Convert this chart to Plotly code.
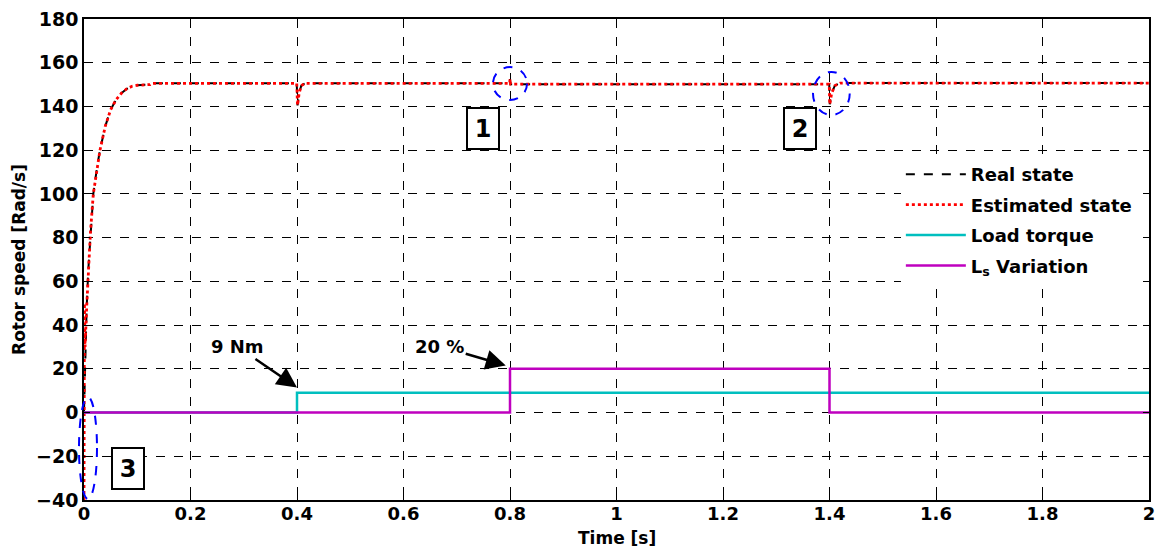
import plotly.graph_objects as go

# Rotor speed response (rad/s) over time (s)
t_real = [0, 0.002, 0.005, 0.008, 0.012, 0.0175, 0.025, 0.03, 0.04, 0.05, 0.06, 0.07,
          0.08, 0.09, 0.1, 0.124, 0.127, 0.3995, 0.401, 0.404, 0.408, 0.415,
          0.7995, 0.8, 0.801, 1.3995, 1.4005, 1.404, 1.41, 1.42, 2.0]
w_real = [0, 22, 48, 65, 82, 100, 113, 120, 131, 138.5, 143, 146,
          148, 149.2, 149.7, 150.0, 150.6, 150.6, 140.5, 146, 149.5, 150.6,
          150.6, 152.5, 150.2, 150.2, 141, 146, 149.5, 150.7, 150.7]

t_est = [0, 0.0008, 0.002, 0.005, 0.008, 0.012, 0.0175, 0.025, 0.03, 0.04, 0.05, 0.06, 0.07,
         0.08, 0.09, 0.1, 0.124, 0.127, 0.3995, 0.401, 0.404, 0.408, 0.415,
         0.7995, 0.8, 0.801, 1.3995, 1.4005, 1.404, 1.41, 1.42, 2.0]
w_est = [-40, 50, 30, 48, 65, 82, 100, 113, 120, 131, 138.5, 143, 146,
         148, 149.2, 149.7, 150.0, 150.6, 150.6, 140.5, 146, 149.5, 150.6,
         150.6, 152.5, 150.2, 150.2, 141, 146, 149.5, 150.7, 150.7]

# Load torque step (Nm) and stator inductance variation (%)
t_load = [0, 0.4, 0.4, 2.0]
load = [0, 0, 9, 9]
t_ls = [0, 0.8, 0.8, 1.4, 1.4, 2.0]
ls_var = [0, 0, 20, 20, 0, 0]

x_ticks = [0, 0.2, 0.4, 0.6, 0.8, 1, 1.2, 1.4, 1.6, 1.8, 2]
x_ticktext = ["0", "0.2", "0.4", "0.6", "0.8", "1", "1.2", "1.4", "1.6", "1.8", "2"]
y_ticks = [-40, -20, 0, 20, 40, 60, 80, 100, 120, 140, 160, 180]

FONT = "DejaVu Sans"

fig = go.Figure()
fig.add_trace(go.Scatter(x=t_real, y=w_real, mode="lines", name="<b>Real state</b>",
                         legendgroup="a",
                         line=dict(color="black", width=2, dash="dash")))
fig.add_trace(go.Scatter(x=t_est, y=w_est, mode="lines", name="<b>Estimated state</b>",
                         legendgroup="b",
                         line=dict(color="#ff0000", width=2.8, dash="dot")))
fig.add_trace(go.Scatter(x=t_load, y=load, mode="lines", name="<b>Load torque</b>",
                         legendgroup="c",
                         line=dict(color="#00bfbf", width=2.5)))
fig.add_trace(go.Scatter(x=t_ls, y=ls_var, mode="lines", name="<b>L<sub>s</sub> Variation</b>",
                         legendgroup="d",
                         line=dict(color="#bf00bf", width=2.5)))

axis_common = dict(
    showline=True, linecolor="black", linewidth=1.5, mirror="ticks",
    ticks="inside", ticklen=6, tickcolor="black", tickwidth=1,
    showgrid=True, gridcolor="black", gridwidth=1, griddash="dash",
    zeroline=False, automargin=False,
)

fig.update_xaxes(range=[0, 2], tickvals=x_ticks, ticktext=x_ticktext,
                 tickfont=dict(family=FONT, size=18, color="black", weight="bold"),
                 ticklabelstandoff=-3,
                 **axis_common)
fig.update_yaxes(range=[-40, 180], tickvals=y_ticks,
                 tickfont=dict(family=FONT, size=19, color="black", weight="bold"),
                 title=dict(text="<b>Rotor speed [Rad/s]</b>", standoff=6,
                            font=dict(family=FONT, size=17, color="black")),
                 **axis_common)

# x-axis title placed just under the tick labels
fig.add_annotation(x=0.5, y=0, xref="paper", yref="paper", yanchor="top", yshift=-26,
                   text="<b>Time [s]</b>", showarrow=False,
                   font=dict(family=FONT, size=17, color="black"))

# Highlight regions with dashed blue ellipses
ell = dict(type="circle", line=dict(color="#0000ff", width=2, dash="dash"), layer="above")
fig.add_shape(x0=0.768, x1=0.832, y0=142.9, y1=158.0, xref="x", yref="y", **ell)
fig.add_shape(x0=1.369, x1=1.438, y0=136.1, y1=155.8, xref="x", yref="y", **ell)
fig.add_shape(x0=-0.0047, x1=0.0122, y0=0.002, y1=0.214, xref="paper", yref="paper", **ell)

# Numbered boxed labels
for txt, xx, yy in [("1", 0.749, 130), ("2", 1.345, 130), ("3", 0.0826, -25.4)]:
    fig.add_annotation(x=xx, y=yy, text="<b>%s</b>" % txt, showarrow=False,
                       font=dict(family=FONT, size=24, color="black"),
                       width=26, height=35,
                       bordercolor="black", borderwidth=2, borderpad=2, bgcolor="white")

# Step labels with arrows pointing at the step onsets
arrow_style = dict(showarrow=True, arrowhead=2, arrowsize=1.6, arrowwidth=2.5,
                   arrowcolor="black", standoff=0, axref="x", ayref="y",
                   xref="x", yref="y", font=dict(family=FONT, size=18, color="black"))
fig.add_annotation(x=0.4, y=11.5, ax=0.289, ay=30, text="<b>9 Nm</b>", **arrow_style)
fig.add_annotation(x=0.792, y=21.5, ax=0.668, ay=30.4, text="<b>20 %</b>", **arrow_style)

fig.update_layout(
    width=1158, height=547,
    margin=dict(l=84, r=9, t=19, b=47),
    paper_bgcolor="white", plot_bgcolor="white",
    font=dict(family=FONT, color="black"),
    showlegend=True,
    legend=dict(x=0.767, y=0.715, xanchor="left", yanchor="top",
                bgcolor="white", borderwidth=0, itemwidth=60,
                tracegroupgap=4,
                font=dict(family=FONT, size=18, color="black")),
)

fig.write_html("out.html")
